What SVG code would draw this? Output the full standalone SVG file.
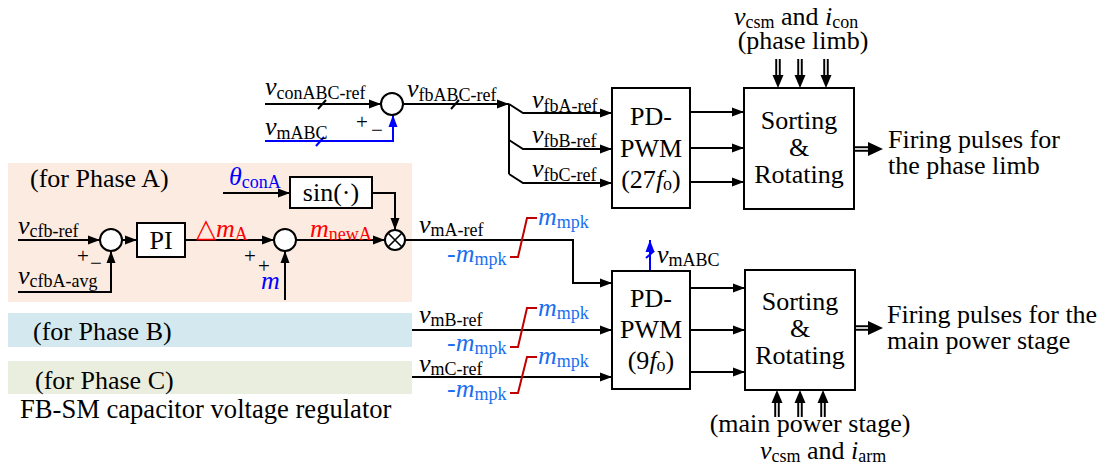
<svg xmlns="http://www.w3.org/2000/svg" width="1107" height="471" viewBox="0 0 1107 471">
  <defs>
    <style>
      text { font-family: "Liberation Serif", "Times New Roman", serif; font-size: 26px; fill: #000; }
      .i { font-style: italic; }
      .sub { font-size: 18px; font-style: normal; }
      .ctr { text-anchor: middle; }
      .sign { font-size: 21px; }
      .w { fill: none; stroke: #000; stroke-width: 2; }
      .wb { fill: none; stroke: #0000ff; stroke-width: 2; }
      .lim { fill: none; stroke: #c00000; stroke-width: 2; }
      .box { fill: #fff; stroke: #000; stroke-width: 2; }
      .sum { fill: #fff; stroke: #000; stroke-width: 2; }
      .blue { fill: #0000ff; }
      .lblue { fill: #1a6ff0; }
      .red { fill: #ff0000; }
      .dshaft { stroke: #000; stroke-width: 5.5; fill: none; }
      .dgap { stroke: #fff; stroke-width: 1.6; fill: none; }
    </style>
    <marker id="ah" markerUnits="userSpaceOnUse" markerWidth="12" markerHeight="10" refX="12" refY="5" orient="auto">
      <path d="M0,0.5 L12,5 L0,9.5 z" fill="#000"/>
    </marker>
    <marker id="ahb" markerUnits="userSpaceOnUse" markerWidth="12" markerHeight="10" refX="12" refY="5" orient="auto">
      <path d="M0,0.5 L12,5 L0,9.5 z" fill="#0000ff"/>
    </marker>
  </defs>

  <!-- phase background bands -->
  <g id="phaseA-band"><rect x="8" y="163" width="404" height="139" fill="#fcebe0"/></g>
  <g id="phaseB-band"><rect x="8" y="313" width="404" height="34" fill="#d4e9ef"/></g>
  <g id="phaseC-band"><rect x="8" y="361" width="404" height="33" fill="#eaeedf"/></g>

  <!-- connectors -->
  <g id="connectors">
    <!-- upper summing junction -->
    <path class="w" d="M265,104 H381" marker-end="url(#ah)"/>
    <path class="w" d="M318,109 L326,100"/>
    <path class="wb" d="M265,141 H393 V115" marker-end="url(#ahb)"/>
    <path class="wb" d="M316,146 L324,137"/>
    <path class="w" d="M403,104 H509" marker-end="url(#ah)"/>
    <path class="w" d="M451,109 L459,100"/>
    <!-- phase split bus -->
    <path class="w" d="M509,104 V174"/>
    <path class="w" d="M509,104 L523,113 H612" marker-end="url(#ah)"/>
    <path class="w" d="M509,140 L523,149 H612" marker-end="url(#ah)"/>
    <path class="w" d="M509,174 L523,183 H612" marker-end="url(#ah)"/>
    <!-- PD-PWM (27fo) to sorting -->
    <path class="w" d="M690,112 H744" marker-end="url(#ah)"/>
    <path class="w" d="M690,148 H744" marker-end="url(#ah)"/>
    <path class="w" d="M690,182 H744" marker-end="url(#ah)"/>

    <!-- phase A regulator -->
    <path class="w" d="M223,193 H290" marker-end="url(#ah)"/>
    <path class="w" d="M372,193 H395 V230" marker-end="url(#ah)"/>
    <path class="w" d="M18,240 H100" marker-end="url(#ah)"/>
    <path class="w" d="M18,292 H111 V251" marker-end="url(#ah)"/>
    <path class="w" d="M122,240 H137" marker-end="url(#ah)"/>
    <path class="w" d="M185,240 H274" marker-end="url(#ah)"/>
    <path class="w" d="M285,300 V251" marker-end="url(#ah)"/>
    <path class="w" d="M296,240 H385" marker-end="url(#ah)"/>
    <path class="w" d="M405,240 H573 V283 H612" marker-end="url(#ah)"/>

    <!-- phase B / C references -->
    <path class="w" d="M412,330 H612" marker-end="url(#ah)"/>
    <path class="w" d="M412,377 H612" marker-end="url(#ah)"/>

    <!-- limiters -->
    <path class="lim" d="M510,257 H518 L527,218 H537"/>
    <path class="lim" d="M510,347 H518 L527,308 H537"/>
    <path class="lim" d="M510,393 H518 L527,357 H537"/>

    <!-- vmABC feedback out of PD-PWM (9fo) -->
    <path class="wb" d="M650,271 V240" marker-end="url(#ahb)"/>
    <path class="wb" d="M646,258 L654,251"/>

    <!-- PD-PWM (9fo) to sorting -->
    <path class="w" d="M690,288 H745" marker-end="url(#ah)"/>
    <path class="w" d="M690,330 H745" marker-end="url(#ah)"/>
    <path class="w" d="M690,372 H745" marker-end="url(#ah)"/>

    <!-- measurement inputs (double-line arrows), upper -->
    <g>
      <path class="dshaft" d="M778,59 V77"/><path class="dgap" d="M778,59 V77"/>
      <path d="M772.5,75 L778,88 L783.5,75 z" fill="#000"/>
      <path class="dshaft" d="M800,59 V77"/><path class="dgap" d="M800,59 V77"/>
      <path d="M794.5,75 L800,88 L805.5,75 z" fill="#000"/>
      <path class="dshaft" d="M826,59 V77"/><path class="dgap" d="M826,59 V77"/>
      <path d="M820.5,75 L826,88 L831.5,75 z" fill="#000"/>
    </g>
    <!-- measurement inputs (double-line arrows), lower -->
    <g>
      <path class="dshaft" d="M777,417 V401"/><path class="dgap" d="M777,417 V401"/>
      <path d="M771.5,403 L777,390 L782.5,403 z" fill="#000"/>
      <path class="dshaft" d="M800,417 V401"/><path class="dgap" d="M800,417 V401"/>
      <path d="M794.5,403 L800,390 L805.5,403 z" fill="#000"/>
      <path class="dshaft" d="M823,417 V401"/><path class="dgap" d="M823,417 V401"/>
      <path d="M817.5,403 L823,390 L828.5,403 z" fill="#000"/>
    </g>

    <!-- firing pulse outputs -->
    <g>
      <path class="dshaft" d="M854,149 H871"/><path class="dgap" d="M854,149 H871"/>
      <path d="M868,142 L883,149 L868,156 z" fill="#000"/>
      <path class="dshaft" d="M855,328 H871"/><path class="dgap" d="M855,328 H871"/>
      <path d="M868,321 L883,328 L868,335 z" fill="#000"/>
    </g>
  </g>

  <!-- upper summing junction -->
  <g id="sum-fb">
    <circle class="sum" cx="392" cy="104" r="11"/>
    <text class="sign" x="356" y="129">+</text>
    <text class="sign" x="371" y="137">−</text>
  </g>
  <g id="label-vconABC"><text x="265" y="95"><tspan class="i">v</tspan><tspan class="sub" dy="4">conABC-ref</tspan></text></g>
  <g id="label-vmABC-top"><text x="265" y="135"><tspan class="i">v</tspan><tspan class="sub" dy="4">mABC</tspan></text></g>
  <g id="label-vfbABC"><text x="407" y="97"><tspan class="i">v</tspan><tspan class="sub" dy="4">fbABC-ref</tspan></text></g>
  <g id="label-vfbA"><text x="532" y="108"><tspan class="i">v</tspan><tspan class="sub" dy="4">fbA-ref</tspan></text></g>
  <g id="label-vfbB"><text x="532" y="143"><tspan class="i">v</tspan><tspan class="sub" dy="4">fbB-ref</tspan></text></g>
  <g id="label-vfbC"><text x="532" y="177"><tspan class="i">v</tspan><tspan class="sub" dy="4">fbC-ref</tspan></text></g>

  <!-- PD-PWM modulator for the phase limb -->
  <g id="pdpwm-limb">
    <rect class="box" x="612" y="88" width="78" height="120"/>
    <text class="ctr" x="651" y="125">PD-</text>
    <text class="ctr" x="651" y="157">PWM</text>
    <text class="ctr" x="651" y="188">(27<tspan class="i">f</tspan><tspan class="sub" dy="2">o</tspan><tspan dy="-2">)</tspan></text>
  </g>

  <!-- sorting for the phase limb -->
  <g id="sort-limb">
    <rect class="box" x="744" y="88" width="110" height="121"/>
    <text class="ctr" x="799" y="129">Sorting</text>
    <text class="ctr" x="799" y="156">&amp;</text>
    <text class="ctr" x="799" y="183">Rotating</text>
  </g>
  <g id="label-limb-meas">
    <text x="734" y="25"><tspan class="i">v</tspan><tspan class="sub" dy="3">csm</tspan></text>
    <text x="781" y="25">and</text>
    <text x="825" y="25"><tspan class="i">i</tspan><tspan class="sub" dy="3">con</tspan></text>
    <text class="ctr" x="803" y="49">(phase limb)</text>
  </g>
  <g id="label-limb-out">
    <text x="888" y="148">Firing pulses for</text>
    <text x="888" y="174">the phase limb</text>
  </g>

  <!-- phase A regulator -->
  <g id="phaseA-title"><text x="30" y="187">(for Phase A)</text></g>
  <g id="label-theta"><text x="229" y="185"><tspan class="i blue">θ</tspan><tspan class="sub blue" dy="3">conA</tspan></text></g>
  <g id="sin-block">
    <rect class="box" x="290" y="177" width="82" height="31"/>
    <text class="ctr" x="331" y="201">sin(·)</text>
  </g>
  <g id="label-vcfbref"><text x="18" y="234"><tspan class="i">v</tspan><tspan class="sub" dy="3">cfb-ref</tspan></text></g>
  <g id="label-vcfbavg"><text x="18" y="284"><tspan class="i">v</tspan><tspan class="sub" dy="3">cfbA-avg</tspan></text></g>
  <g id="sum-cap">
    <circle class="sum" cx="111" cy="240" r="11"/>
    <text class="sign" x="77" y="263">+</text>
    <text class="sign" x="90" y="270">−</text>
  </g>
  <g id="pi-block">
    <rect class="box" x="137" y="223" width="48" height="34"/>
    <text class="ctr" x="161" y="249">PI</text>
  </g>
  <g id="label-dmA"><text x="196" y="237" class="red"><tspan>△</tspan><tspan class="i">m</tspan><tspan class="sub" dy="3">A</tspan></text></g>
  <g id="sum-m">
    <circle class="sum" cx="285" cy="240" r="11"/>
    <text class="sign" x="244" y="263">+</text>
    <text class="sign" x="258" y="273">+</text>
    <text x="261" y="289" class="i blue">m</text>
  </g>
  <g id="label-mnewA"><text x="310" y="237" class="red"><tspan class="i">m</tspan><tspan class="sub" dy="3">newA</tspan></text></g>
  <g id="multiplier">
    <circle class="sum" cx="395" cy="240" r="10"/>
    <path class="w" d="M388,233 L402,247 M402,233 L388,247" style="stroke-width:1.6"/>
  </g>
  <g id="label-vmAref"><text x="419" y="233"><tspan class="i">v</tspan><tspan class="sub" dy="3">mA-ref</tspan></text></g>

  <!-- phase B and C regulators -->
  <g id="phaseB-title"><text x="33" y="340">(for Phase B)</text></g>
  <g id="phaseC-title"><text x="35" y="389">(for Phase C)</text></g>
  <g id="regulator-caption"><text x="20" y="418" style="font-size:26.6px">FB-SM capacitor voltage regulator</text></g>
  <g id="label-vmBref"><text x="419" y="323"><tspan class="i">v</tspan><tspan class="sub" dy="3">mB-ref</tspan></text></g>
  <g id="label-vmCref"><text x="419" y="372"><tspan class="i">v</tspan><tspan class="sub" dy="3">mC-ref</tspan></text></g>

  <!-- limiter bounds -->
  <g id="limits-A">
    <text x="538" y="225" class="lblue"><tspan class="i">m</tspan><tspan class="sub" dy="3">mpk</tspan></text>
    <text x="447" y="262" class="lblue"><tspan class="i">-m</tspan><tspan class="sub" dy="3">mpk</tspan></text>
  </g>
  <g id="limits-B">
    <text x="538" y="316" class="lblue"><tspan class="i">m</tspan><tspan class="sub" dy="3">mpk</tspan></text>
    <text x="447" y="351" class="lblue"><tspan class="i">-m</tspan><tspan class="sub" dy="3">mpk</tspan></text>
  </g>
  <g id="limits-C">
    <text x="538" y="364" class="lblue"><tspan class="i">m</tspan><tspan class="sub" dy="3">mpk</tspan></text>
    <text x="447" y="397" class="lblue"><tspan class="i">-m</tspan><tspan class="sub" dy="3">mpk</tspan></text>
  </g>

  <!-- PD-PWM modulator for the main power stage -->
  <g id="pdpwm-main">
    <rect class="box" x="612" y="271" width="78" height="118"/>
    <text class="ctr" x="651" y="307">PD-</text>
    <text class="ctr" x="651" y="338">PWM</text>
    <text class="ctr" x="651" y="369">(9<tspan class="i">f</tspan><tspan class="sub" dy="2">o</tspan><tspan dy="-2">)</tspan></text>
  </g>
  <g id="label-vmABC-out"><text x="657" y="263"><tspan class="i">v</tspan><tspan class="sub" dy="3">mABC</tspan></text></g>

  <!-- sorting for the main power stage -->
  <g id="sort-main">
    <rect class="box" x="745" y="270" width="110" height="120"/>
    <text class="ctr" x="800" y="310">Sorting</text>
    <text class="ctr" x="800" y="337">&amp;</text>
    <text class="ctr" x="800" y="364">Rotating</text>
  </g>
  <g id="label-main-meas">
    <text class="ctr" x="810" y="432">(main power stage)</text>
    <text x="760" y="459"><tspan class="i">v</tspan><tspan class="sub" dy="3">csm</tspan></text>
    <text x="807" y="459">and</text>
    <text x="851" y="459"><tspan class="i">i</tspan><tspan class="sub" dy="3">arm</tspan></text>
  </g>
  <g id="label-main-out">
    <text x="887" y="323">Firing pulses for the</text>
    <text x="887" y="349">main power stage</text>
  </g>
</svg>
